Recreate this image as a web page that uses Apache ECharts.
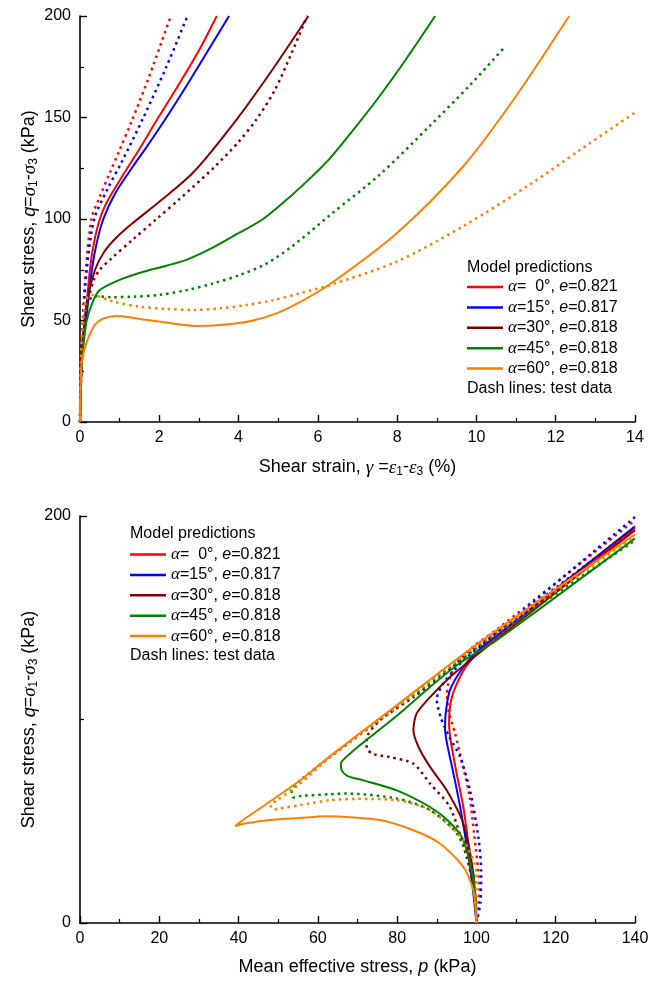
<!DOCTYPE html>
<html>
<head>
<meta charset="utf-8">
<title>Shear stress vs strain and stress path</title>
<script src="https://cdn.jsdelivr.net/npm/echarts@6/dist/echarts.min.js"></script>
<style>
  html, body { margin: 0; padding: 0; background: #fff; }
  #chart { width: 662px; height: 984px; }
</style>
</head>
<body>
<div id="chart"></div>
<script>
// cases shown in the legends
const caseNames = ['a0', 'a15', 'a30', 'a45', 'a60']
const caseAngles = ['  0', '15', '30', '45', '60']
const caseVoids = ['0.821', '0.817', '0.818', '0.818', '0.818']

// top panel: shear strain (%) vs shear stress q (kPa), model predictions
const strainModel0 = [[0,0],[0.02,25],[0.06,40],[0.13,50],[0.25,75],[0.35,88],[0.5,100],[0.67,108],[1.0,119],[1.5,134.5],[1.93,148.5],[2.5,166.5],[3.0,183],[3.45,200]]
const strainModel15 = [[0,0],[0.03,25],[0.08,40],[0.15,50],[0.3,75],[0.42,88],[0.59,100],[0.9,113],[1.34,126],[1.7,136],[2.18,150],[2.7,166],[3.2,182],[3.76,200]]
const strainModel30 = [[0,0],[0.03,20],[0.07,40],[0.18,60],[0.38,75],[0.6,83.5],[0.9,90.5],[1.3,97.5],[2.0,108.5],[2.86,123],[3.95,149],[4.87,174],[5.76,200]]
const strainModel45 = [[0,0],[0.03,25],[0.1,40],[0.17,50],[0.34,60],[0.5,65],[1.0,70],[1.6,74],[2.18,77],[2.7,80],[3.36,86],[3.95,92.5],[4.62,100],[5.3,111],[5.88,121.5],[6.31,130],[7.0,146.5],[7.48,158.5],[8.11,175.5],[8.96,200]]
const strainModel60 = [[0,0],[0.02,20],[0.05,30],[0.18,40],[0.38,48],[0.59,51],[0.92,52.2],[1.6,50.5],[2.35,48.5],[3.0,47.3],[3.87,48.4],[4.37,50],[4.96,53.5],[5.5,58.5],[6.31,68],[7.99,93],[9.67,126],[10.93,158.6],[12.34,200]]

// top panel: test data
const strainTest0 = [[0,0],[0.02,25],[0.07,50],[0.15,75],[0.29,100],[0.5,111],[0.76,123],[1.0,134],[1.3,148],[1.76,171],[2.29,200]]
const strainTest15 = [[0,0],[0.03,25],[0.08,50],[0.17,75],[0.36,100],[0.7,115],[1.05,128],[1.6,150],[2.18,175],[2.71,200]]
const strainTest30 = [[0,0],[0.03,25],[0.1,50],[0.2,60],[0.35,70],[0.5,75],[0.76,80],[1.34,90],[1.93,100],[2.52,110],[3.36,125],[4.0,138],[4.45,149],[4.9,163],[5.3,180],[5.73,200]]
const strainTest45 = [[0,0],[0.03,30],[0.1,50],[0.2,58],[0.34,62],[0.8,61.5],[1.34,61.7],[2.0,62.6],[2.7,65],[3.36,68.3],[4.03,72.4],[4.7,78],[5.38,87],[6.31,102],[7.57,122],[8.83,146],[9.84,166],[10.68,184]]
const strainTest60 = [[0,0],[0.02,30],[0.08,50],[0.15,60],[0.29,62.6],[0.84,59.3],[1.51,56.8],[2.18,55.7],[2.86,55.2],[3.53,56],[4.2,57.6],[4.87,60],[5.55,63.4],[6.31,67.5],[7.99,79],[9.67,96.5],[11.35,117],[12.61,134],[14.0,152.5]]

// bottom panel: mean effective stress p (kPa) vs q (kPa), model predictions
const pathModel0 = [[100,0],[99.5,15],[98.4,32.5],[96.7,57],[95.0,73.5],[93.5,89.8],[93.1,98],[93.8,111],[96.7,124],[100.9,134],[105,140.5],[140,194]]
const pathModel15 = [[100,0],[99.2,15],[98.0,32.5],[95.9,57],[94.2,73.5],[92.6,88],[92.1,95],[92.2,102],[93.3,114.3],[96.7,125.8],[100.9,134.8],[105,141],[140,195]]
const pathModel30 = [[100,0],[99.2,24.5],[96.7,48.8],[92.5,65.2],[88.3,76.7],[85.4,86.5],[84.1,94.7],[84.9,102.9],[88.3,111],[93.3,120.8],[98.4,129],[102.6,135.6],[140,193]]
const pathModel45 = [[100,0],[99.6,16.2],[96.7,40.7],[93,50],[88.3,57],[79.9,65.2],[71.5,70.1],[67.5,72.2],[66.0,75],[65.8,78.3],[68.1,83.2],[73.2,91.4],[80,102],[88.3,116],[96,128],[105.1,139],[140,189]]
const pathModel60 = [[100,0],[99.2,16.2],[96.7,27.6],[90.8,39.1],[84.1,45.6],[75.7,50.6],[68,52],[62,52.4],[55.5,51.6],[47.1,50.5],[42,49],[40.2,48.2],[39.2,47.6],[40.4,49.6],[47.1,58.6],[55.5,70],[63.1,82],[79.9,107],[100.1,137],[140,191]]

// bottom panel: test data
const pathTest0 = [[100,0],[100.8,16],[99.4,44],[98.3,62],[96.5,78],[94.5,94],[93,104],[92.6,112],[93.3,121],[96,130],[100,137],[105,144],[140,198]]
const pathTest15 = [[100,0],[101,10],[101.2,25],[100.5,42],[98.4,65],[95.9,81.6],[93,92],[91,101],[90,110],[91.6,117.6],[96.7,129],[101,136],[140,199.5]]
const pathTest30 = [[100,0],[100,8],[97.5,32.5],[93.3,57],[88.3,68.5],[84.1,78.3],[78.2,81.5],[74,83],[72.3,86],[72.3,90.5],[75.7,99.6],[84.1,111],[91,121],[98.4,133],[140,194]]
const pathTest45 = [[100,0],[99.2,24.5],[95,44.1],[88.3,55.5],[79.9,61.2],[67.3,63.6],[63.1,63.3],[56,62.5],[53.8,61.7],[53.4,65],[55.5,70],[63.1,81.6],[80,106],[100,135],[140,188]]
const pathTest60 = [[100,0],[100,24.5],[96.7,40.7],[88.3,55.5],[79.9,60.4],[70,61],[63.1,60.4],[55.5,57.9],[50,56.2],[48.8,55.8],[48.1,57.9],[49.8,60.4],[55.5,68.5],[63.1,81.6],[80,106.5],[100,136],[140,190]]

const strainModels = [strainModel0, strainModel15, strainModel30, strainModel45, strainModel60]
const strainTests = [strainTest0, strainTest15, strainTest30, strainTest45, strainTest60]
const pathModels = [pathModel0, pathModel15, pathModel30, pathModel45, pathModel60]
const pathTests = [pathTest0, pathTest15, pathTest30, pathTest45, pathTest60]

const colors = ['#ff0000', '#0000ff', '#800000', '#008000', '#ff8000']
const sans = "'Liberation Sans', Arial, sans-serif"
const serif = "'Liberation Serif', 'Times New Roman', serif"

const chart = echarts.init(document.getElementById('chart'), null, { renderer: 'canvas' })

const titleRich = {
  g: { fontFamily: serif, fontStyle: 'italic', fontSize: 19, color: '#000' },
  i: { fontFamily: sans, fontStyle: 'italic', fontSize: 18, color: '#000' },
  s: { fontFamily: sans, fontSize: 12, color: '#000', padding: [9, 0, 0, 0] }
}

function xAxis(gridIndex, max, interval, name) {
  return {
    type: 'value',
    gridIndex: gridIndex,
    min: 0,
    max: max,
    interval: interval,
    name: name,
    nameLocation: 'middle',
    nameGap: 35,
    nameTextStyle: { fontFamily: sans, fontSize: 18, color: '#000', rich: titleRich },
    axisLine: { lineStyle: { color: '#000', width: 1.6 } },
    axisTick: { inside: true, length: 7, lineStyle: { color: '#000', width: 1.4 } },
    minorTick: { show: true, splitNumber: 2, length: 4, lineStyle: { color: '#000', width: 1.2 } },
    axisLabel: { fontFamily: sans, fontSize: 16, color: '#000', margin: 8 },
    splitLine: { show: false }
  }
}

function yAxis(gridIndex, interval) {
  return {
    type: 'value',
    gridIndex: gridIndex,
    min: 0,
    max: 200,
    interval: interval,
    name: 'Shear stress, {i|q}={g|σ}{s|1}-{g|σ}{s|3} (kPa)',
    nameLocation: 'middle',
    nameRotate: 90,
    nameGap: 40,
    nameMoveOverlap: false,
    nameTextStyle: { fontFamily: sans, fontSize: 18, color: '#000', rich: titleRich },
    axisLine: { lineStyle: { color: '#000', width: 1.6 } },
    axisTick: { inside: true, length: 7, lineStyle: { color: '#000', width: 1.4 } },
    minorTick: { show: true, splitNumber: 2, length: 4, lineStyle: { color: '#000', width: 1.2 } },
    axisLabel: { fontFamily: sans, fontSize: 16, color: '#000', margin: 9 },
    splitLine: { show: false }
  }
}

function legend(left, top) {
  return {
    data: caseNames,
    orient: 'vertical',
    left: left,
    top: top,
    padding: 0,
    icon: 'rect',
    itemWidth: 36,
    itemHeight: 2.5,
    itemGap: 3.4,
    selectedMode: false,
    formatter: function (name) {
      const k = caseNames.indexOf(name)
      return '{g|α}=' + caseAngles[k] + '°, {i|e}=' + caseVoids[k]
    },
    textStyle: {
      fontFamily: sans,
      fontSize: 16,
      lineHeight: 16,
      color: '#000',
      rich: {
        g: { fontFamily: serif, fontStyle: 'italic', fontSize: 17, color: '#000' },
        i: { fontFamily: sans, fontStyle: 'italic', fontSize: 16, color: '#000' }
      }
    }
  }
}

function legendText(left, top, text) {
  return {
    type: 'text',
    left: left,
    top: top,
    style: { text: text, fill: '#000', font: '16px ' + sans }
  }
}

const series = []
for (let k = 0; k < caseNames.length; k++) {
  series.push({
    name: caseNames[k], type: 'line', xAxisIndex: 0, yAxisIndex: 0,
    data: strainModels[k], showSymbol: false, smooth: 0.3,
    itemStyle: { color: colors[k] }, lineStyle: { color: colors[k], width: 2 }
  })
  series.push({
    name: caseNames[k] + ' test', type: 'line', xAxisIndex: 0, yAxisIndex: 0,
    data: strainTests[k], showSymbol: false, smooth: 0.3,
    itemStyle: { color: colors[k] }, lineStyle: { color: colors[k], width: 2.5, type: [2.5, 4] }
  })
  series.push({
    name: caseNames[k], type: 'line', xAxisIndex: 1, yAxisIndex: 1,
    data: pathModels[k], showSymbol: false, smooth: 0.25,
    itemStyle: { color: colors[k] }, lineStyle: { color: colors[k], width: 2 }
  })
  series.push({
    name: caseNames[k] + ' test', type: 'line', xAxisIndex: 1, yAxisIndex: 1,
    data: pathTests[k], showSymbol: false, smooth: 0.25,
    itemStyle: { color: colors[k] }, lineStyle: { color: colors[k], width: 2.5, type: [2.5, 4] }
  })
}

chart.setOption({
  animation: false,
  backgroundColor: '#fff',
  grid: [
    { left: 80, top: 16, width: 555, height: 406 },
    { left: 80, top: 516, width: 555, height: 407 }
  ],
  xAxis: [
    xAxis(0, 14, 2, 'Shear strain, {g|γ} ={g|ε}{s|1}-{g|ε}{s|3} (%)'),
    xAxis(1, 140, 20, 'Mean effective stress, {i|p} (kPa)')
  ],
  yAxis: [yAxis(0, 50), yAxis(1, 200)],
  legend: [legend(467, 278.5), legend(130, 546)],
  graphic: [
    legendText(467, 260, 'Model predictions'),
    legendText(467, 381, 'Dash lines: test data'),
    legendText(130, 526, 'Model predictions'),
    legendText(130, 648, 'Dash lines: test data')
  ],
  series: series
})
</script>
</body>
</html>
